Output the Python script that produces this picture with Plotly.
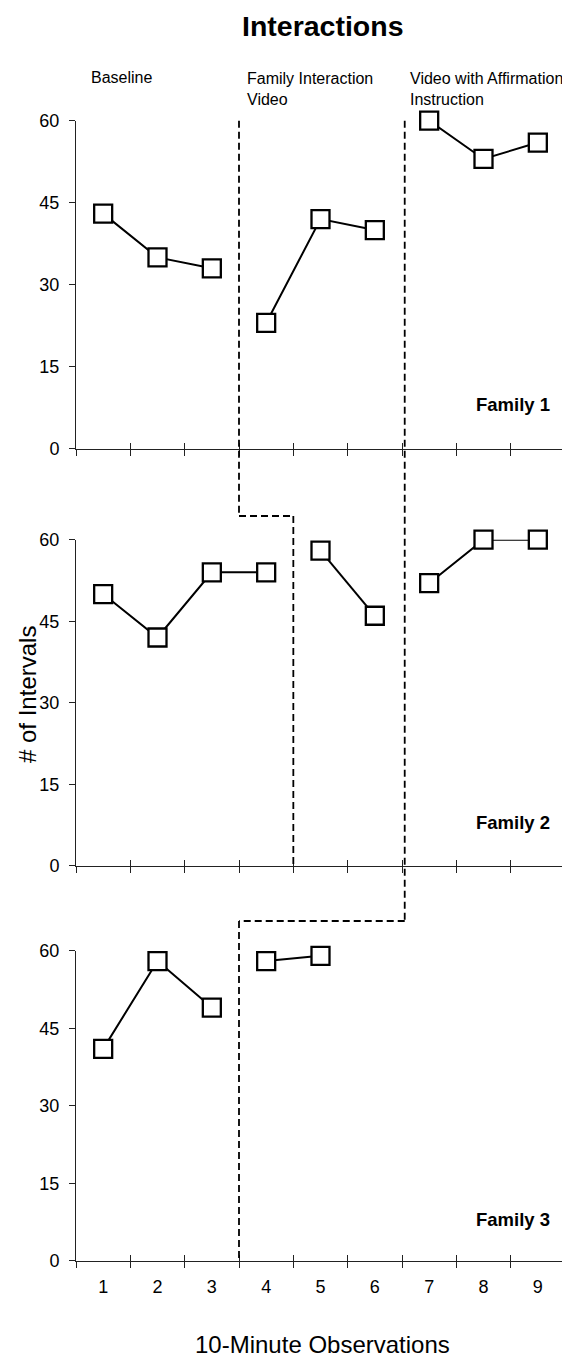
import plotly.graph_objects as go

# ---------------- data ----------------
categories = ["1", "2", "3", "4", "5", "6", "7", "8", "9"]

family1_values = [43, 35, 33, 23, 42, 40, 60, 53, 56]
family1_phases = [1, 1, 1, 2, 2, 2, 3, 3, 3]

family2_values = [50, 42, 54, 54, 58, 46, 52, 60, 60]
family2_phases = [1, 1, 1, 1, 2, 2, 3, 3, 3]

family3_values = [41, 58, 49, 58, 59]
family3_phases = [1, 1, 1, 2, 2]

family_labels = ["Family 1", "Family 2", "Family 3"]
phase_labels = ["Baseline", "Family Interaction<br>Video",
                "Video with Affirmation<br>Instruction"]
y_ticks = [0, 15, 30, 45, 60]

title_text = "Interactions"
x_title = "10-Minute Observations"
y_title = "# of Intervals"

# ---------------- layout geometry ----------------
W, H = 570, 1359
ML, MR = 68, 13
FONT = "Liberation Sans, Arial, sans-serif"
INK = "#000000"
AX = "#222222"

def py(px):  # pixel row -> paper fraction
    return 1 - px / H

def pxx(px):  # pixel column -> paper fraction
    return (px - ML) / (W - ML - MR)

domains = [
    [py(440.7), py(112.7)],
    [py(857.7), py(531.7)],
    [py(1252.7), py(942.7)],
]

fig = go.Figure()

families = [
    (family1_values, family1_phases),
    (family2_values, family2_phases),
    (family3_values, family3_phases),
]

for i, (vals, phases) in enumerate(families):
    xa = "x" if i == 0 else f"x{i+1}"
    ya = "y" if i == 0 else f"y{i+1}"
    # invisible trace holding all categories
    fig.add_trace(go.Scatter(x=categories, y=[None] * len(categories),
                             xaxis=xa, yaxis=ya, showlegend=False,
                             hoverinfo="skip", mode="markers"))
    for ph in sorted(set(phases)):
        xs = [categories[k] for k in range(len(vals)) if phases[k] == ph]
        ys = [vals[k] for k in range(len(vals)) if phases[k] == ph]
        fig.add_trace(go.Scatter(
            x=xs, y=ys, xaxis=xa, yaxis=ya, mode="lines+markers",
            line=dict(color=INK, width=2),
            marker=dict(symbol="square", size=18, color="white",
                        line=dict(color=INK, width=2.3)),
            cliponaxis=False, showlegend=False))
    # overlay axis (inside ticks, so x ticks cross the axis line)
    oxa = f"x{i+4}"
    fig.add_trace(go.Scatter(x=categories, y=[None] * len(categories),
                             xaxis=oxa, yaxis=ya, showlegend=False,
                             hoverinfo="skip", mode="markers"))

for i in range(3):
    sx = "" if i == 0 else str(i + 1)
    ya_name = "y" if i == 0 else f"y{i+1}"
    xa_name = "x" if i == 0 else f"x{i+1}"
    common_x = dict(
        type="category", categoryorder="array", categoryarray=categories,
        range=[-0.5, len(categories) - 0.5], tickson="boundaries",
        showgrid=False, zeroline=False, domain=[0, 1], fixedrange=True,
    )
    fig.layout[f"xaxis{sx}"] = dict(
        **common_x, anchor=ya_name,
        showline=True, linecolor=AX, linewidth=1,
        ticks="outside", ticklen=6, tickcolor=AX, tickwidth=1,
        showticklabels=(i == 2),
        tickfont=dict(family=FONT, size=18, color=INK),
        ticklabelstandoff=10,
    )
    fig.layout[f"xaxis{i+4}"] = dict(
        **common_x, anchor=ya_name, overlaying=xa_name,
        showline=False, ticks="inside", ticklen=6, tickcolor=AX, tickwidth=1,
        showticklabels=False,
    )
    fig.layout[f"yaxis{sx}"] = dict(
        domain=domains[i], anchor=xa_name, range=[0, 60],
        tickmode="array", tickvals=y_ticks,
        showgrid=False, zeroline=False, showline=True,
        linecolor=AX, linewidth=1, ticks="outside", ticklen=6,
        tickcolor=AX, tickwidth=1,
        tickfont=dict(family=FONT, size=18, color=INK),
        ticklabelstandoff=6, fixedrange=True,
    )

# ---------------- phase-change lines ----------------
dash = dict(color=INK, width=1.8, dash="7px,4px")
b1 = 2.5   # between sessions 3 and 4
b2 = 3.5   # between sessions 4 and 5
b3 = 5.55  # between sessions 6 and 7
top = domains[0][1]
bend1 = py(508)
bend2 = py(913)
segs = [
    (b1, top, b1, bend1),
    (b1, bend1, b2, bend1),
    (b2, bend1, b2, domains[1][0]),
    (b3, top, b3, bend2),
    (b3, bend2, b1, bend2),
    (b1, bend2, b1, domains[2][0]),
]
for x0, y0, x1, y1 in segs:
    fig.add_shape(type="line", xref="x3", yref="paper",
                  x0=x0, y0=y0, x1=x1, y1=y1, line=dash, layer="above")

# ---------------- text ----------------
ann = []
ann.append(dict(text=f"<b>{title_text}</b>", x=pxx(315), y=py(18),
                xref="paper", yref="paper", showarrow=False,
                xanchor="center", yanchor="middle",
                font=dict(family=FONT, size=28.5, color=INK)))
phase_x = [82, 238, 401]
phase_y = [70, 80.5, 80.5]
for t, xp, yp in zip(phase_labels, phase_x, phase_y):
    ann.append(dict(text=t, x=pxx(xp), y=py(yp), xref="paper", yref="paper",
                    showarrow=False, xanchor="left", yanchor="middle",
                    align="left", borderpad=0,
                    font=dict(family=FONT, size=16, color=INK)))
for i, lab in enumerate(family_labels):
    ya_name = "y" if i == 0 else f"y{i+1}"
    ann.append(dict(text=f"<b>{lab}</b>", x=pxx(544), y=0.134,
                    xref="paper", yref=f"{ya_name} domain", showarrow=False,
                    xanchor="right", yanchor="middle",
                    font=dict(family=FONT, size=18.5, color=INK)))
ann.append(dict(text=y_title, x=pxx(19), y=py(687), xref="paper",
                yref="paper", showarrow=False, textangle=-90,
                xanchor="center", yanchor="middle",
                font=dict(family=FONT, size=24, color=INK)))
ann.append(dict(text=x_title, x=pxx(314), y=py(1336), xref="paper",
                yref="paper", showarrow=False, borderpad=0,
                xanchor="center", yanchor="middle",
                font=dict(family=FONT, size=24, color=INK)))

fig.update_layout(
    width=W, height=H,
    margin=dict(l=ML, r=MR, t=0, b=0, autoexpand=False),
    paper_bgcolor="white", plot_bgcolor="white",
    showlegend=False, annotations=ann,
    font=dict(family=FONT, color=INK),
)

fig.write_html("out.html")
